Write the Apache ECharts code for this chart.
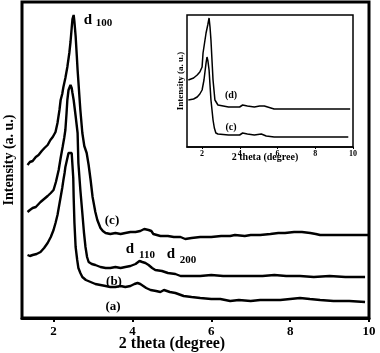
<!DOCTYPE html>
<html>
<head>
<meta charset="utf-8">
<script src="https://cdn.jsdelivr.net/npm/echarts@6/dist/echarts.min.js"></script>
<style>
  html, body { margin: 0; padding: 0; background: #fff; }
  #chart { width: 380px; height: 353px; }
</style>
</head>
<body>
<div id="chart"></div>
<script>
// x: 2 theta (degree), y: intensity (a. u.)
var xTicks = [2, 4, 6, 8, 10];
var xMinorTicks = [3, 5, 7, 9];

var mainA = [[1.34,63],[1.40,62],[1.47,63],[1.57,64],[1.67,66],[1.76,70],[1.85,75],[1.93,81],[2.00,88],[2.05,95],[2.10,103],[2.14,112],[2.18,121],[2.22,130],[2.25,138],[2.28,145],[2.30,151],[2.34,158],[2.38,165],[2.43,166],[2.46,165],[2.48,164],[2.50,140],[2.51,121],[2.53,95],[2.56,71],[2.60,58],[2.63,50],[2.68,45],[2.73,41],[2.82,38],[2.94,36],[3.06,34],[3.19,33],[3.32,32],[3.44,31],[3.57,31],[3.70,32],[3.82,31],[3.95,32],[4.05,34],[4.13,35],[4.20,34],[4.25,32],[4.35,30],[4.46,28],[4.60,27],[4.71,26],[4.80,28],[4.84,28],[4.95,26],[5.09,25],[5.30,22],[5.50,21],[5.72,20],[6.00,19],[6.23,19],[6.48,17],[6.70,18],[7.00,17],[7.24,18],[7.50,18],[7.75,18],[8.00,19],[8.25,20],[8.50,19],[8.76,18],[9.10,17],[9.50,17],[9.90,16]];

var mainB = [[1.34,106],[1.40,108],[1.47,110],[1.55,111],[1.67,116],[1.76,119],[1.85,122],[1.93,125],[2.00,128],[2.06,136],[2.13,148],[2.18,160],[2.23,171],[2.27,180],[2.30,188],[2.33,205],[2.35,218],[2.38,228],[2.43,233],[2.46,230],[2.48,225],[2.51,218],[2.56,202],[2.61,185],[2.63,155],[2.68,128],[2.73,105],[2.77,86],[2.81,71],[2.85,61],[2.89,56],[2.97,54],[3.06,53],[3.19,51],[3.32,50],[3.44,50],[3.57,51],[3.70,50],[3.82,51],[3.95,52],[4.08,54],[4.18,57],[4.25,56],[4.33,55],[4.41,53],[4.50,50],[4.58,48],[4.75,47],[4.90,45],[5.09,44],[5.22,42],[5.45,42],[5.72,42],[6.00,43],[6.30,42],[6.60,42],[6.99,42],[7.30,42],[7.60,43],[7.90,42],[8.25,42],[8.60,41],[9.00,42],[9.40,41],[9.90,41]];

var mainC = [[1.34,153],[1.40,156],[1.47,157],[1.55,161],[1.62,163],[1.70,167],[1.77,170],[1.85,173],[1.92,178],[1.98,181],[2.05,186],[2.10,195],[2.15,208],[2.18,218],[2.22,224],[2.25,231],[2.30,240],[2.35,251],[2.40,265],[2.43,276],[2.46,290],[2.48,299],[2.51,303],[2.53,296],[2.56,282],[2.59,262],[2.61,248],[2.65,225],[2.68,208],[2.73,185],[2.78,172],[2.84,165],[2.89,153],[2.94,138],[2.99,121],[3.06,106],[3.11,98],[3.19,90],[3.25,87],[3.32,85],[3.44,84],[3.57,85],[3.70,84],[3.82,85],[3.95,86],[4.08,86],[4.20,87],[4.30,89],[4.41,88],[4.48,87],[4.53,84],[4.62,83],[4.71,82],[4.90,82],[5.05,81],[5.22,81],[5.34,79],[5.50,80],[5.72,81],[6.00,81],[6.25,82],[6.48,82],[6.60,83],[6.85,82],[7.00,83],[7.24,83],[7.50,84],[7.70,85],[7.87,85],[8.10,86],[8.30,86],[8.51,85],[8.65,84],[8.76,83],[9.00,83],[9.27,83],[9.60,83],[10.0,83]];

// inset
var insetC = [[1.27,47],[1.37,47],[1.55,48],[1.74,50],[1.88,53],[2.00,57],[2.10,67],[2.21,84],[2.26,90],[2.31,86],[2.37,77],[2.42,62],[2.47,47],[2.58,27],[2.65,19],[2.73,14],[2.84,13],[2.94,12],[3.40,12],[3.99,12],[4.15,14],[4.25,14],[4.40,13],[4.77,12],[5.14,13],[5.40,11],[5.82,10],[6.50,10],[7.13,10],[8.00,10],[9.75,10]];
var insetD = [[1.27,67],[1.37,67],[1.55,69],[1.74,72],[1.88,75],[2.00,80],[2.05,94],[2.13,104],[2.21,114],[2.30,122],[2.37,129],[2.42,120],[2.47,107],[2.53,85],[2.58,67],[2.68,47],[2.84,42],[2.94,40],[3.40,40],[3.99,40],[4.15,42],[4.25,43],[4.40,41],[4.77,40],[5.05,41],[5.30,41],[5.82,38],[6.50,38],[7.13,38],[8.00,38],[8.70,38],[9.85,38]];

var serif = '"Liberation Serif", "DejaVu Serif", serif';

function lineSeries(data, xi, yi, w) {
  return {
    type: 'line',
    xAxisIndex: xi,
    yAxisIndex: yi,
    data: data,
    showSymbol: false,
    symbol: 'none',
    smooth: false,
    lineStyle: { color: '#000', width: w },
    silent: true
  };
}

function txt(text, x, y, size, align) {
  return {
    type: 'text',
    z: 100,
    style: {
      text: text,
      x: x,
      y: y,
      fill: '#000',
      font: 'bold ' + size + 'px ' + serif,
      textAlign: align || 'center',
      textVerticalAlign: 'middle'
    }
  };
}

var chart = echarts.init(document.getElementById('chart'));
chart.setOption({
  animation: false,
  backgroundColor: '#fff',
  grid: [
    { left: 22, top: 2, width: 347, height: 316, show: true, borderColor: '#000', borderWidth: 3, backgroundColor: 'transparent' },
    { left: 187, top: 15, width: 166, height: 132, show: true, borderColor: '#000', borderWidth: 1.5, backgroundColor: '#fff' }
  ],
  xAxis: [
    {
      gridIndex: 0, type: 'value', min: 1.2, max: 10,
      axisLine: { show: true, lineStyle: { color: '#000', width: 3 } },
      axisTick: { show: true, length: 4, customValues: xTicks, lineStyle: { color: '#000', width: 2 } },
      axisLabel: { customValues: xTicks, margin: 7, color: '#000', fontFamily: serif, fontWeight: 'bold', fontSize: 13 },
      splitLine: { show: false }
    },
    {
      gridIndex: 0, type: 'value', min: 1.2, max: 10, position: 'bottom',
      axisLine: { show: false },
      axisTick: { show: true, length: 2, customValues: xMinorTicks, lineStyle: { color: '#000', width: 1.5 } },
      axisLabel: { show: false },
      splitLine: { show: false }
    },
    {
      gridIndex: 1, type: 'value', min: 1.2, max: 10,
      axisLine: { show: true, lineStyle: { color: '#000', width: 1.5 } },
      axisTick: { show: true, length: 2, customValues: xTicks, lineStyle: { color: '#000', width: 1 } },
      axisLabel: { customValues: xTicks, margin: 3, color: '#000', fontFamily: serif, fontWeight: 'bold', fontSize: 8 },
      splitLine: { show: false }
    }
  ],
  yAxis: [
    {
      gridIndex: 0, type: 'value', min: 0, max: 316,
      axisLine: { show: false }, axisTick: { show: false }, axisLabel: { show: false }, splitLine: { show: false }
    },
    {
      gridIndex: 1, type: 'value', min: 0, max: 132,
      name: 'Intensity (a. u.)', nameLocation: 'middle', nameGap: 2, nameRotate: 90,
      nameTextStyle: { color: '#000', fontFamily: serif, fontWeight: 'bold', fontSize: 9 },
      axisLine: { show: false }, axisTick: { show: false }, axisLabel: { show: false }, splitLine: { show: false }
    }
  ],
  series: [
    lineSeries(mainA, 0, 0, 2.4),
    lineSeries(mainB, 0, 0, 2.4),
    lineSeries(mainC, 0, 0, 2.4),
    lineSeries(insetC, 2, 1, 1.5),
    lineSeries(insetD, 2, 1, 1.5)
  ],
  graphic: [
    // axis titles
    txt('2 theta (degree)', 172, 344, 16),
    {
      type: 'text', z: 100, rotation: Math.PI / 2, x: 9, y: 160,
      style: { text: 'Intensity (a. u.)', fill: '#000', font: 'bold 14px ' + serif, textAlign: 'center', textVerticalAlign: 'middle' }
    },
    txt('2 theta (degree)', 265, 157, 10),
    // main labels
    txt('d', 88, 20, 15),
    txt('100', 104, 23, 11),
    txt('d', 130, 249, 15),
    txt('110', 147, 255, 11),
    txt('d', 171, 254, 15),
    txt('200', 188, 260, 11),
    txt('(c)', 112, 221, 13),
    txt('(b)', 114, 282, 13),
    txt('(a)', 113, 307, 13),
    // inset labels
    txt('(d)', 231, 95, 10),
    txt('(c)', 231, 127, 10)
  ]
});
</script>
</body>
</html>
